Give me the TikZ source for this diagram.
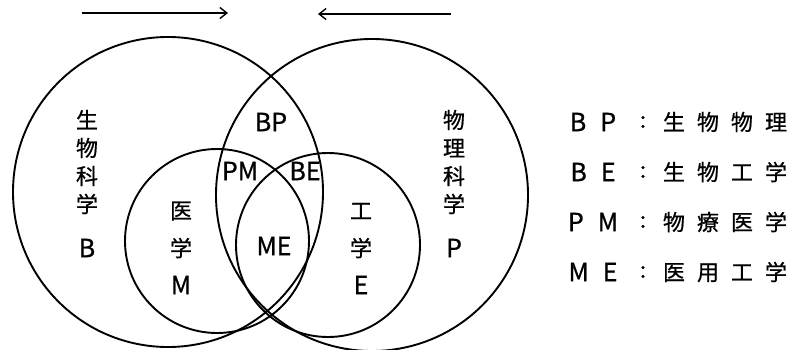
\documentclass[tikz,border=0pt]{standalone}
\usepackage{fontspec}
\setmainfont{Noto Sans CJK JP}[FakeBold=0.8]
\usetikzlibrary{arrows.meta}
\tikzset{
  ring/.style={line width=1.9pt},
  lbl/.style={inner sep=0pt, font=\fontsize{25}{28}\selectfont},
  cj/.style={inner sep=0pt, font=\fontsize{22}{27}\selectfont},
  vlbl/.style={inner sep=0pt, align=center, font=\fontsize{22}{28}\selectfont},
  leg/.style={inner sep=0pt, font=\fontsize{22}{26}\selectfont},
  legl/.style={inner sep=0pt, font=\fontsize{25}{26}\selectfont},
  dirarrow/.style={line width=2pt, -{Straight Barb[length=7pt,width=11pt,line width=1.4pt]}}
}
\newcommand{\gp}{\hspace{12pt}}
\begin{document}
\begin{tikzpicture}[x=1pt,y=-1pt]
\useasboundingbox (0,0) rectangle (795,350);
% circles
\draw[ring] (168,192) circle[radius=155];
\draw[ring] (372,195) circle[radius=156];
\draw[ring] (217,241) circle[radius=92];
\draw[ring] (328,245) circle[radius=92];
% arrows
\coordinate (a1s) at (82,13);
\coordinate (a1e) at (228,13);
\coordinate (a2s) at (451,14);
\coordinate (a2e) at (318,14);
\draw[dirarrow] (a1s) -- (a1e);
\draw[dirarrow] (a2s) -- (a2e);
% labels in circles
\node[vlbl] (bio) at (87,162) {生\\物\\科\\学};
\node[lbl] (B) at (87,248) {B};
\node[vlbl] (phy) at (454,162) {物\\理\\科\\学};
\node[lbl] (P) at (454,248) {P};
\node[lbl] (BP) at (271,122) {BP};
\node[lbl] (PM) at (240,171) {PM};
\node[lbl] (BE) at (305,171) {BE};
\node[lbl] (ME) at (274,246) {ME};
\node[cj] (med1) at (181,211) {医};
\node[cj] (med2) at (181,248) {学};
\node[lbl] (M) at (181,285) {M};
\node[cj] (eng1) at (361,211) {工};
\node[cj] (eng2) at (361,248) {学};
\node[lbl] (E) at (361,285) {E};
% legend
\node[legl] (l1a) at (593,122) {B\hspace{14pt}P};
\node[leg] (l1c) at (643,122) {:};
\node[leg] (l1t) at (725,122) {生\gp 物\gp 物\gp 理};
\node[legl] (l2a) at (593,172) {B\hspace{14pt}E};
\node[leg] (l2c) at (643,172) {:};
\node[leg] (l2t) at (725,172) {生\gp 物\gp 工\gp 学};
\node[legl] (l3a) at (593,222) {P\hspace{14pt}M};
\node[leg] (l3c) at (643,222) {:};
\node[leg] (l3t) at (725,222) {物\gp 療\gp 医\gp 学};
\node[legl] (l4a) at (593,272) {M\hspace{14pt}E};
\node[leg] (l4c) at (643,272) {:};
\node[leg] (l4t) at (725,272) {医\gp 用\gp 工\gp 学};
\end{tikzpicture}
\end{document}
